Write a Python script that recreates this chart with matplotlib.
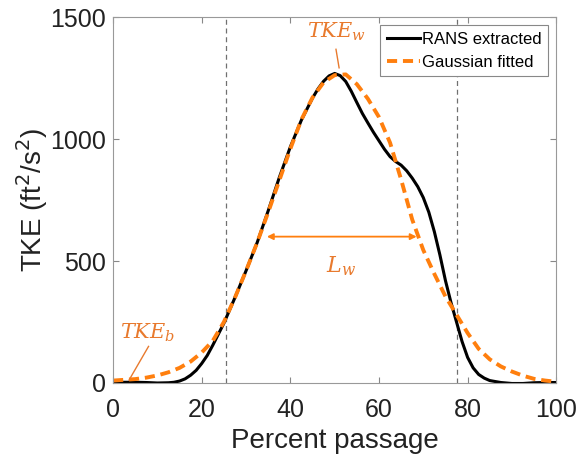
import matplotlib.pyplot as plt
import numpy as np

# wartości
procent_rans = [0, 2.5, 5, 7.5, 10, 12.5, 13.75, 15, 16.25, 17.5, 18.75, 20, 21.25, 22.5,
                25, 27.5, 30, 32.5, 35, 37.5, 40, 42.5, 45, 46.25, 47.5, 48.75, 50,
                51.25, 52.5, 53.75, 55, 56.25, 57.5, 58.75, 60, 61.25, 62.5, 63.75, 65,
                66.25, 67.5, 68.75, 70, 71.25, 72.5, 73.75, 75, 76.25, 77.5, 78.75, 80,
                81.25, 82.5, 83.75, 85, 87.5, 90, 92.5, 95, 97.5, 100]
tke_rans = [2, 3, 3, 2, 0, 1, 3, 8, 17, 32, 52, 80, 113, 155,
            245, 350, 460, 575, 706, 842, 968, 1078, 1168, 1206, 1237, 1259, 1269,
            1260, 1236, 1196, 1150, 1105, 1066, 1028, 993, 958, 928, 908, 893,
            870, 840, 805, 760, 700, 620, 525, 420, 330, 250, 170, 105,
            62, 35, 20, 10, 2, -2, -2, 1, 2, 2]

procent_gauss = [0, 2.5, 5, 7.5, 10, 12.5, 15, 17.5, 20, 22.5, 25, 27.5, 30, 32.5, 35,
                 37.5, 40, 42.5, 45, 47.5, 50, 52.5, 55, 57.5, 60, 62.5, 65, 67.5, 70,
                 72.5, 75, 77.5, 80, 82.5, 85, 87.5, 90, 92.5, 95, 97.5, 100]
tke_gauss = [10, 13, 16, 22, 31, 44, 62, 88, 125, 173, 250, 350, 460, 575, 700,
             830, 960, 1080, 1170, 1232, 1262, 1265, 1225, 1165, 1090, 985, 834, 670, 545,
             447, 355, 280, 205, 140, 97, 68, 47, 30, 17, 10, 5]

x_kreski = [25.5, 77.7]
lw_od, lw_do, lw_y = 34.7, 68.5, 600

pomaranczowy = '#ff7f0e'
tekst_kolor = '#e87a2e'


def main():
    plt.rcParams['font.family'] = ['Liberation Sans', 'DejaVu Sans']
    fig = plt.figure(figsize=(5.77, 4.62), dpi=100)
    ax = fig.add_axes([0.196, 0.171, 0.768, 0.792])

    for xk in x_kreski:
        ax.axvline(xk, color='#707070', ls='--', lw=0.9, dashes=(4, 3))

    ax.plot(procent_rans, tke_rans, color='black', lw=2.2, label='RANS extracted')
    ax.plot(procent_gauss, tke_gauss, color=pomaranczowy, lw=2.8, ls='--', dashes=(2.6, 1.5),
            label='Gaussian fitted')

    # adnotacje
    ax.annotate('', xy=(lw_od, lw_y), xytext=(lw_do, lw_y),
                arrowprops=dict(arrowstyle='<|-|>', color=pomaranczowy, lw=1.3,
                                mutation_scale=9, shrinkA=0, shrinkB=0))
    ax.text(51.5, 480, r'$L_w$', color=tekst_kolor, fontsize=16,
            ha='center', va='center', math_fontfamily='dejavuserif')
    ax.text(50.5, 1440, r'$TKE_w$', color=tekst_kolor, fontsize=15,
            ha='center', va='center', math_fontfamily='dejavuserif')
    ax.plot([50.3, 51], [1368, 1292], color=tekst_kolor, lw=1)
    ax.text(7.7, 205, r'$TKE_b$', color=tekst_kolor, fontsize=15,
            ha='center', va='center', math_fontfamily='dejavuserif')
    ax.plot([8, 3.6], [150, 12], color=tekst_kolor, lw=1)

    ax.set_xlim(0, 100)
    ax.set_ylim(0, 1500)
    ax.set_xticks(np.arange(0, 101, 20))
    ax.set_yticks([0, 500, 1000, 1500])
    ax.tick_params(direction='in', top=True, right=True, labelsize=18,
                   color='#888888', length=4, labelcolor='#222222')
    ax.tick_params(axis='x', pad=11)
    ax.tick_params(axis='y', pad=5)
    for s in ax.spines.values():
        s.set_color('#999999')

    ax.set_xlabel('Percent passage', fontsize=20, color='#222222', labelpad=4)
    ax.set_ylabel('TKE (ft$^2$/s$^2$)', fontsize=20, color='#222222', labelpad=0)

    leg = ax.legend(loc='upper right', fontsize=12, handlelength=2, handletextpad=0.1,
                    borderpad=0.4, labelspacing=0.45, fancybox=False, framealpha=1,
                    borderaxespad=0.5)
    leg.get_frame().set_edgecolor('#888888')
    leg.get_frame().set_linewidth(0.8)

    fig.savefig('out.png', dpi=100)


if __name__ == '__main__':
    main()
